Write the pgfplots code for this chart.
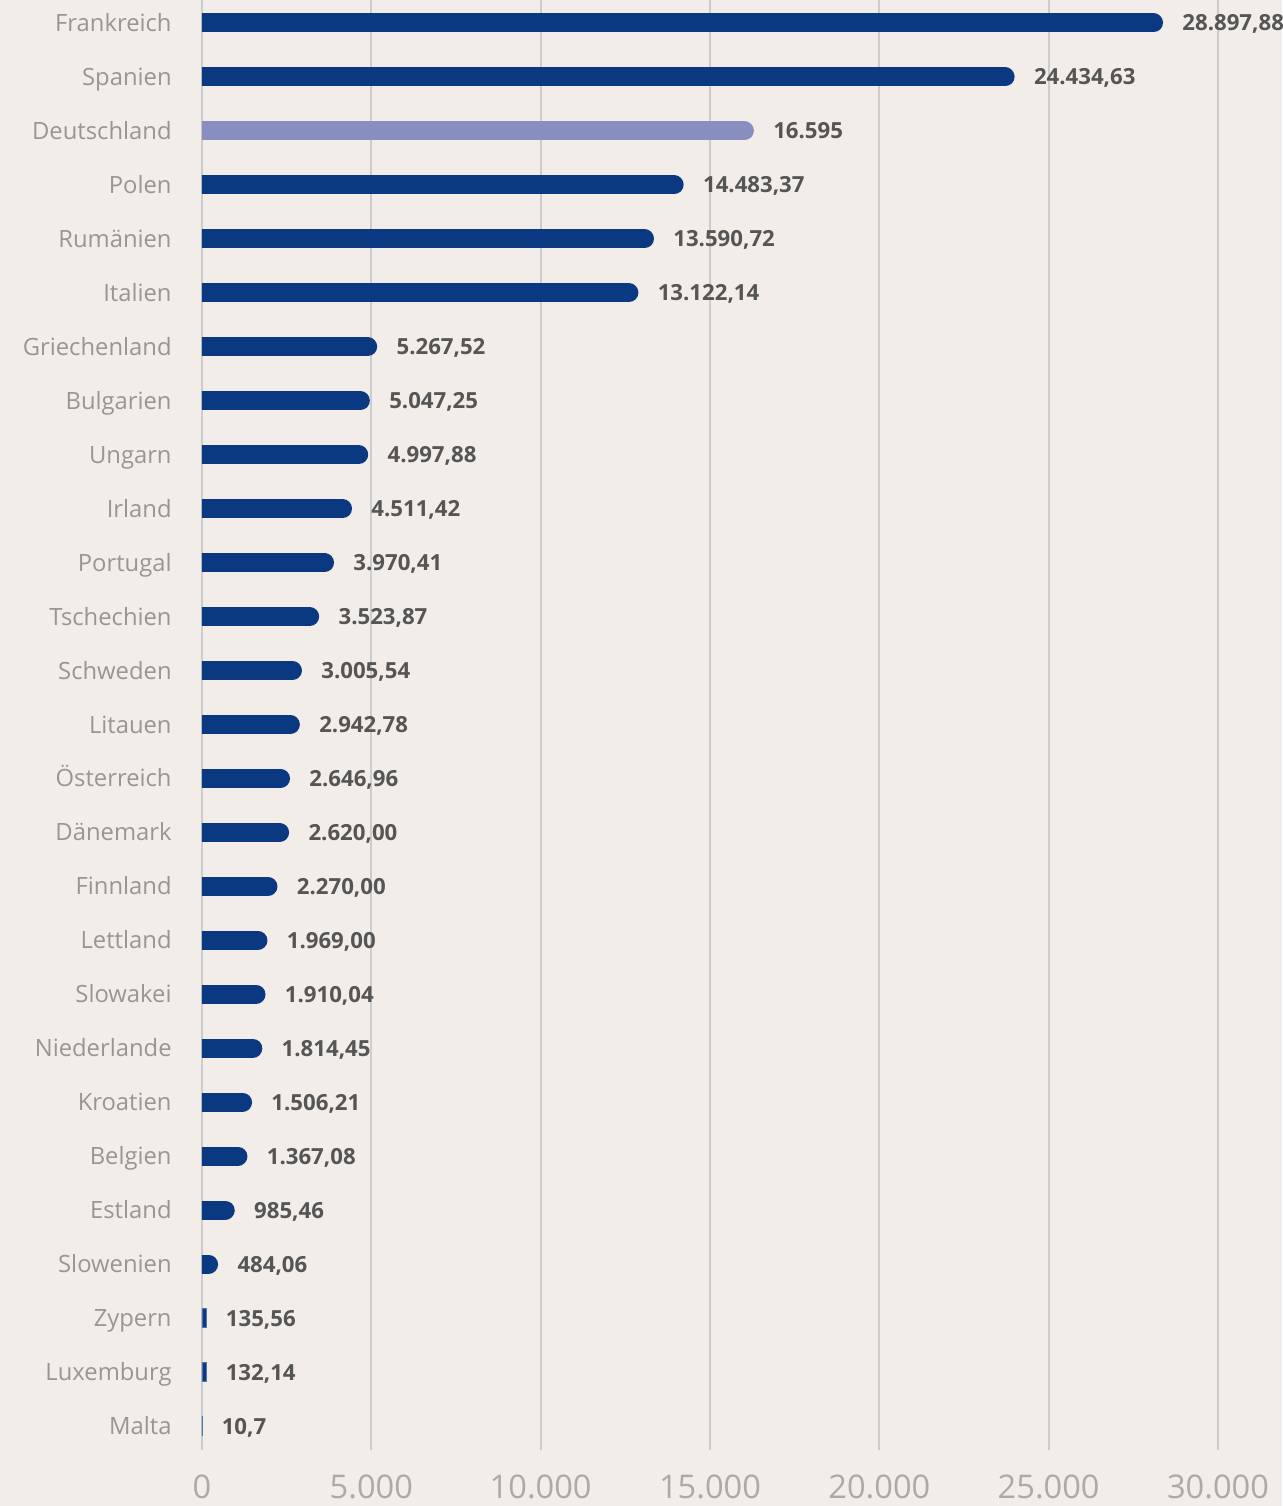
\documentclass[border=0pt]{standalone}
\usepackage{pgfplots}
\pgfplotsset{compat=1.18}
\usepackage{pgfplotstable}
\usepackage{fontspec}
\setmainfont{Open Sans}

\definecolor{bg}{HTML}{F2EDE8}
\definecolor{barblue}{HTML}{0A3982}
\definecolor{debar}{HTML}{898EC0}
\definecolor{gridgray}{HTML}{CCCCCC}
\definecolor{catgray}{HTML}{969696}
\definecolor{valgray}{HTML}{555555}
\definecolor{tickgray}{HTML}{AAAAAA}

% i = row from top, v = value, lab = printed label
\pgfplotstableread{
i v lab
0 28897.88 28.897,88
1 24434.63 24.434,63
3 14483.37 14.483,37
4 13590.72 13.590,72
5 13122.14 13.122,14
6 5267.52 5.267,52
7 5047.25 5.047,25
8 4997.88 4.997,88
9 4511.42 4.511,42
10 3970.41 3.970,41
11 3523.87 3.523,87
12 3005.54 3.005,54
13 2942.78 2.942,78
14 2646.96 2.646,96
15 2620.00 2.620,00
16 2270.00 2.270,00
17 1969.00 1.969,00
18 1910.04 1.910,04
19 1814.45 1.814,45
20 1506.21 1.506,21
21 1367.08 1.367,08
22 985.46 985,46
23 484.06 484,06
24 135.56 135,56
25 132.14 132,14
26 10.7 10,7
}\main

\pgfplotstableread{
i v lab
2 16595 16.595
}\de

% the source draws its bars at 98.2% of the grid scale
\def\bs{0.982}
% half the bar height (4.75pt) in x units
\def\cap{280.5}

\pgfplotsset{
  common/.style={
    at={(101pt,28pt)}, anchor=south west,
    scale only axis,
    width=508pt, height=725pt,
    xmin=0, xmax=30000,
    ymin=-0.426, ymax=26.445,
    y dir=reverse,
  },
  bar/.style={xcomb, line width=9.5pt, line cap=round, mark=none, restrict x to domain=0:40000},
  vallabel/.style={draw=none, mark=none, nodes near coords, point meta=explicit symbolic,
    nodes near coords style={anchor=base west, inner sep=0pt, xshift=9.5pt, yshift=-4pt,
      font=\bfseries\fontsize{11.1}{13}\selectfont, text=valgray}},
}

\begin{document}
\begin{tikzpicture}
\fill[bg] (0,0) rectangle (641pt,753pt);
\useasboundingbox (0,0) rectangle (641pt,753pt);
\begin{axis}[
  common,
  axis line style={draw=none},
  major tick length=0pt,
  xmajorgrids,
  grid style={color=gridgray, line width=1pt},
  xtick={0,5000,10000,15000,20000,25000,30000},
  xticklabels={0,5.000,10.000,15.000,20.000,25.000,30.000},
  xticklabel style={font=\fontsize{16.3}{18}\selectfont, text=tickgray, inner sep=0pt, yshift=-12pt},
  ytick={0,...,26},
  yticklabels={Frankreich,Spanien,Deutschland,Polen,Rumänien,Italien,Griechenland,Bulgarien,Ungarn,Irland,Portugal,Tschechien,Schweden,Litauen,Österreich,Dänemark,Finnland,Lettland,Slowakei,Niederlande,Kroatien,Belgien,Estland,Slowenien,Zypern,Luxemburg,Malta},
  yticklabel style={font=\fontsize{11.9}{14}\selectfont, text=catgray, anchor=base east, inner sep=0pt, xshift=-15pt, yshift=-4.25pt},
]
% bars with a round right end; the left cap is clipped at x = 0
\addplot[bar, color=barblue] table[x expr=\thisrow{v}*\bs-\cap, y=i]{\main};
\addplot[bar, color=debar] table[x expr=\thisrow{v}*\bs-\cap, y=i]{\de};
% the three tiny bars as plain rectangles
\addplot[xbar, bar width=9.5pt, bar shift=0pt, fill=barblue, draw=barblue!70, line width=0.4pt,
  restrict x to domain=0:300] table[x expr=\thisrow{v}*\bs, y=i]{\main};
\end{axis}
\begin{axis}[common, hide axis, clip=false]
\addplot[vallabel] table[x expr=\thisrow{v}*\bs, y=i, meta=lab]{\main};
\addplot[vallabel] table[x expr=\thisrow{v}*\bs, y=i, meta=lab]{\de};
\end{axis}
\end{tikzpicture}
\end{document}
